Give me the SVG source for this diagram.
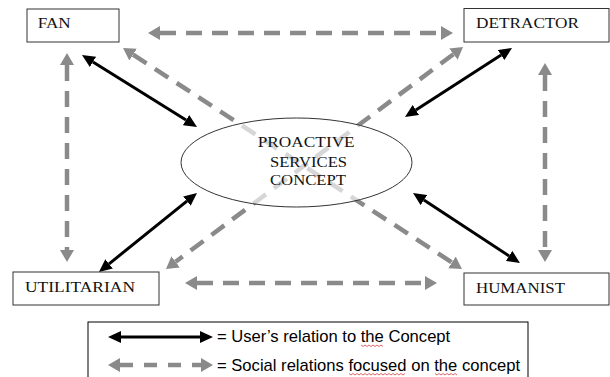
<svg xmlns="http://www.w3.org/2000/svg" width="610" height="377" viewBox="0 0 610 377">
  <style>
    .box { fill: #ffffff; stroke: #333333; stroke-width: 1; }
    .lbl { font-family: "Liberation Serif", "Times New Roman", serif; font-size: 14px; fill: #111111; }
    .black { stroke: #000000; stroke-width: 3; fill: none; marker-start: url(#bh); marker-end: url(#bh); }
    .gray { stroke: #8a8a8a; stroke-width: 4.5; fill: none; stroke-dasharray: 16 10; marker-start: url(#gh); marker-end: url(#gh); }
    .leg { font-family: "Liberation Sans", Arial, sans-serif; font-size: 16.6px; fill: #000000; }
    .squig { stroke: #d04040; stroke-width: 0.8; fill: none; }
  </style>
  <defs>
    <marker id="bh" markerUnits="userSpaceOnUse" viewBox="0 0 13 12" markerWidth="13" markerHeight="12" refX="0" refY="6" orient="auto-start-reverse">
      <path d="M0,0 L13,6 L0,12 z" fill="#000000"/>
    </marker>
    <marker id="gh" markerUnits="userSpaceOnUse" viewBox="0 0 12 14" markerWidth="12" markerHeight="14" refX="0" refY="7" orient="auto-start-reverse">
      <path d="M0,0 L12,7 L0,14 z" fill="#8a8a8a"/>
    </marker>
  </defs>
  <rect width="610" height="377" fill="#ffffff"/>

  <g id="connectors">
    <line class="gray" x1="160" y1="33" x2="441" y2="33"/>
    <line class="gray" x1="197" y1="283" x2="425" y2="283"/>
    <line class="gray" x1="67" y1="65" x2="67" y2="250"/>
    <line class="gray" x1="545" y1="75" x2="545" y2="250"/>
    <line class="gray" x1="133.1" y1="54.6" x2="451.9" y2="262.4"/>
    <line class="gray" x1="453.4" y1="54.2" x2="175.6" y2="261.8"/>
    <line class="black" x1="93" y1="61.9" x2="186" y2="120.1"/>
    <line class="black" x1="501.1" y1="55" x2="415.9" y2="110"/>
    <line class="black" x1="186.9" y1="201.2" x2="109.1" y2="263.8"/>
    <line class="black" x1="423.9" y1="200.1" x2="509.1" y2="255.9"/>
  </g>

  <g id="concept">
    <ellipse cx="296.5" cy="162.5" rx="115.5" ry="44.5" fill="#ffffff" fill-opacity="0.65" stroke="#333333" stroke-width="1"/>
    <text class="lbl" x="257.7" y="147.3" textLength="97" lengthAdjust="spacingAndGlyphs">PROACTIVE</text>
    <text class="lbl" x="270" y="166.7" textLength="77" lengthAdjust="spacingAndGlyphs">SERVICES</text>
    <text class="lbl" x="270" y="185" textLength="76" lengthAdjust="spacingAndGlyphs">CONCEPT</text>
  </g>

  <g id="fan">
    <rect class="box" x="27" y="9" width="92" height="33"/>
    <text class="lbl" x="37.7" y="28.3" textLength="33" lengthAdjust="spacingAndGlyphs">FAN</text>
  </g>
  <g id="detractor">
    <rect class="box" x="464" y="8.5" width="145" height="33.5"/>
    <text class="lbl" x="476" y="28.3" textLength="103" lengthAdjust="spacingAndGlyphs">DETRACTOR</text>
  </g>
  <g id="utilitarian">
    <rect class="box" x="13" y="272" width="146" height="33"/>
    <text class="lbl" x="25" y="292" textLength="110" lengthAdjust="spacingAndGlyphs">UTILITARIAN</text>
  </g>
  <g id="humanist">
    <rect class="box" x="464" y="273" width="145" height="32"/>
    <text class="lbl" x="476" y="293" textLength="89" lengthAdjust="spacingAndGlyphs">HUMANIST</text>
  </g>

  <g id="legend">
    <rect x="88" y="322" width="440" height="62" fill="#ffffff" stroke="#000000" stroke-width="1"/>
    <line class="black" x1="121" y1="337" x2="200" y2="337"/>
    <line class="gray" x1="120" y1="365" x2="201" y2="365" style="stroke-dasharray: 13 11"/>
    <text class="leg" x="217" y="342">= User’s relation to the Concept</text>
    <text class="leg" x="217" y="370.5">= Social relations focused on the concept</text>
    <path class="squig" d="M361,345 l2,1.5 l2,-1.5 l2,1.5 l2,-1.5 l2,1.5 l2,-1.5 l2,1.5 l2,-1.5 l2,1.5 l2,-1.5 l2,1.5"/>
    <path class="squig" d="M349,373.5 l2,1.5 l2,-1.5 l2,1.5 l2,-1.5 l2,1.5 l2,-1.5 l2,1.5 l2,-1.5 l2,1.5 l2,-1.5 l2,1.5 l2,-1.5 l2,1.5 l2,-1.5 l2,1.5 l2,-1.5 l2,1.5 l2,-1.5 l2,1.5 l2,-1.5 l2,1.5 l2,-1.5 l2,1.5 l2,-1.5 l2,1.5 l2,-1.5 l2,1.5 l2,-1.5"/>
    <path class="squig" d="M435,373.5 l2,1.5 l2,-1.5 l2,1.5 l2,-1.5 l2,1.5 l2,-1.5 l2,1.5 l2,-1.5 l2,1.5 l2,-1.5 l2,1.5"/>
  </g>
</svg>
